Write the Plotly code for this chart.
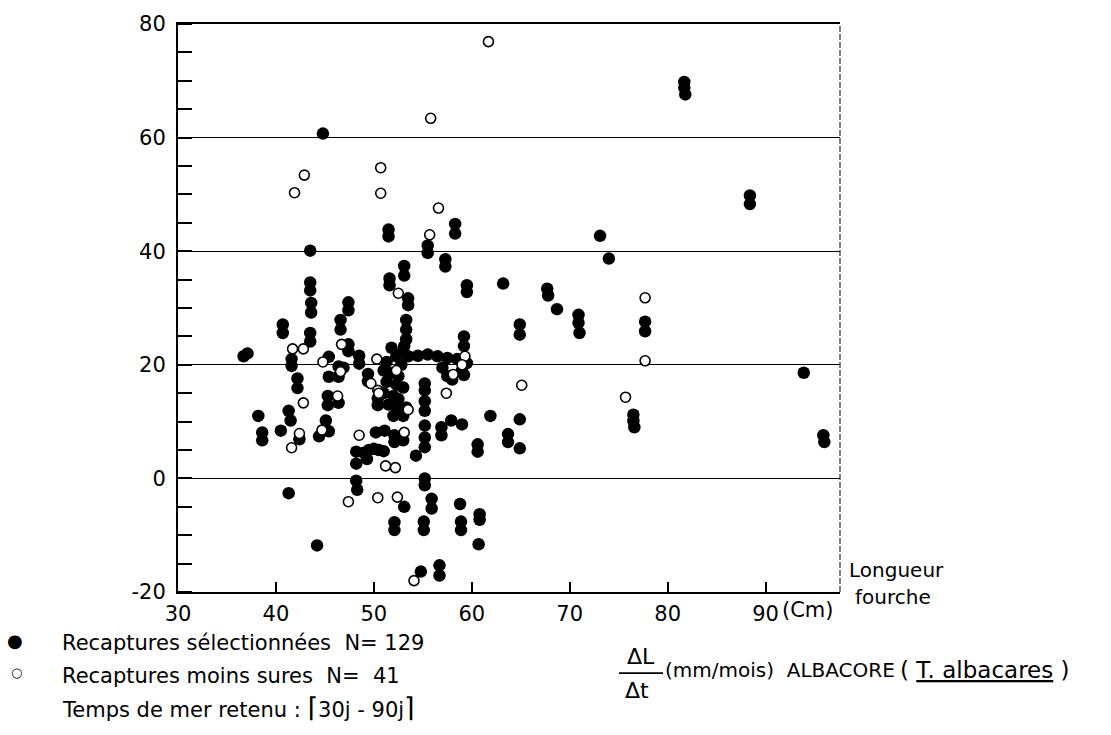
import plotly.graph_objects as go

# ---- data ----
# Recaptures sélectionnées (filled)
sel_x = [44.8, 51.5, 51.5, 55.5, 55.5, 43.5, 58.3, 58.3, 57.3, 57.3,
         81.7, 81.7, 81.8, 88.4, 88.4, 73.1, 74.0, 63.2, 67.7, 67.8,
         68.7, 70.9, 70.9, 71.0, 77.7, 77.7, 64.9, 64.9, 93.9, 76.5,
         76.5, 76.6, 64.9, 95.9, 96.0, 63.7, 63.7, 64.9, 61.9, 60.6,
         60.6, 44.2, 41.3, 48.2, 48.3, 53.1, 55.2, 55.2, 55.9, 55.9,
         52.1, 52.1, 55.1, 55.1, 58.8, 58.9, 58.9, 60.8, 60.8, 60.7,
         54.8, 56.7, 56.7, 48.2, 48.2, 49.0, 49.5, 50.0, 50.5, 51.0,
         49.3, 54.3, 55.2, 55.2, 55.2, 56.9, 56.9, 57.9, 38.6, 38.6,
         40.5, 42.4, 44.4, 44.8, 45.4, 45.1, 50.2, 51.1, 52.1, 52.1,
         53.0, 38.2, 41.5, 41.3, 43.5, 43.5, 43.6, 43.6, 47.4, 47.4,
         46.6, 46.6, 40.7, 40.7, 43.5, 43.5, 36.7, 37.1, 41.6, 41.6,
         47.4, 47.4, 45.4, 48.5, 48.5, 46.4, 46.4, 45.4, 42.2, 42.2,
         49.4, 49.4, 45.3, 45.3, 46.4, 50.4, 50.4, 53.1, 53.1, 51.6,
         51.6, 53.5, 53.5, 59.5, 59.5, 53.3, 53.3, 53.3, 53.1, 59.2,
         59.2, 53.0, 53.5, 54.5, 55.5, 56.5, 57.5, 58.5, 59.0, 59.5,
         57.0, 57.5, 58.0, 59.0, 59.2, 55.2, 55.2, 55.2, 55.2, 51.8,
         52.3, 51.3, 52.8, 51.0, 51.7, 52.5, 51.3, 52.3, 53.0, 51.0,
         52.0, 52.5, 51.5, 52.3, 53.3, 52.0, 53.0, 59.0, 46.9]
sel_y = [60.7, 43.8, 42.6, 41.0, 39.7, 40.1, 44.8, 43.1, 38.6, 37.3,
         69.8, 68.8, 67.6, 49.8, 48.3, 42.7, 38.7, 34.3, 33.4, 32.2,
         29.8, 28.8, 27.4, 25.6, 27.6, 25.9, 27.1, 25.3, 18.6, 11.2,
         10.1, 9.0, 10.4, 7.6, 6.4, 7.8, 6.4, 5.3, 11.0, 6.0,
         4.7, -11.8, -2.6, -0.4, -2.0, -5.0, 0.0, -1.2, -3.6, -5.3,
         -7.7, -9.1, -7.6, -9.1, -4.5, -7.6, -9.1, -6.3, -7.3, -11.6,
         -16.4, -15.3, -17.1, 4.7, 2.6, 4.5, 5.0, 5.2, 5.0, 4.8,
         3.4, 4.0, 9.3, 7.2, 5.5, 9.0, 7.6, 10.2, 8.1, 6.7,
         8.4, 6.9, 7.4, 8.4, 8.3, 10.2, 8.1, 8.4, 7.6, 6.4,
         6.7, 11.0, 10.2, 11.9, 34.5, 33.1, 30.9, 29.2, 31.0, 29.6,
         27.9, 26.2, 27.1, 25.6, 25.6, 24.1, 21.5, 22.0, 21.0, 19.8,
         23.6, 22.4, 21.4, 21.6, 20.2, 19.7, 17.9, 17.9, 17.6, 15.9,
         18.4, 17.1, 14.5, 12.9, 13.3, 14.1, 12.9, 37.4, 35.7, 35.2,
         34.0, 31.7, 30.5, 34.0, 32.8, 27.9, 26.2, 24.5, 23.3, 25.0,
         23.3, 22.5, 21.5, 21.6, 21.8, 21.5, 21.2, 21.0, 20.6, 20.3,
         19.5, 18.0, 17.4, 19.0, 18.2, 16.7, 15.5, 13.6, 11.9, 23.0,
         21.5, 20.5, 20.0, 19.0, 18.5, 18.0, 17.0, 16.5, 16.0, 15.0,
         14.5, 14.0, 13.0, 12.5, 12.5, 11.0, 11.0, 9.5, 19.5]

# Recaptures moins sures (open)
uns_x = [61.7, 55.8, 42.9, 41.9, 50.7, 50.7, 56.6, 55.7, 77.7, 77.7,
         65.1, 75.7, 47.4, 50.4, 52.4, 54.1, 51.2, 52.2, 41.6, 42.4,
         44.7, 48.5, 53.1, 52.5, 41.7, 42.8, 46.7, 44.8, 50.3, 49.7,
         46.3, 42.8, 50.4, 58.1, 57.4, 50.5, 52.3, 53.5, 46.6, 59.3,
         59.0]
uns_y = [76.9, 63.4, 53.4, 50.3, 54.7, 50.2, 47.6, 42.9, 31.8, 20.7,
         16.4, 14.3, -4.1, -3.4, -3.3, -18.0, 2.2, 1.9, 5.4, 7.9,
         8.5, 7.6, 8.1, 32.6, 22.8, 22.8, 23.6, 20.5, 21.0, 16.7,
         14.5, 13.3, 15.5, 18.3, 15.0, 15.0, 19.0, 12.1, 18.8, 21.5,
         20.0]

x_range = [30, 97.6]
y_range = [-20, 80]
x_ticks = [30, 40, 50, 60, 70, 80, 90]
y_ticks = [-20, 0, 20, 40, 60, 80]

FONT = "DejaVu Sans"
W, H = 1111, 735
L, R, T, B = 178, 840, 18, 592


def px(xp):
    return (xp - L) / (R - L)


def py(yp):
    return (B - yp) / (B - T)


fig = go.Figure()
fig.add_trace(go.Scatter(
    x=sel_x, y=sel_y, mode="markers",
    marker=dict(symbol="circle", size=12.5, color="black", line=dict(width=0)),
    name="Recaptures sélectionnées", hoverinfo="x+y"))
fig.add_trace(go.Scatter(
    x=uns_x, y=uns_y, mode="markers",
    marker=dict(symbol="circle", size=10, color="white",
                line=dict(width=1.6, color="black")),
    name="Recaptures moins sures", hoverinfo="x+y"))

fig.update_layout(
    width=W, height=H,
    margin=dict(l=L, r=W - R, t=T, b=H - B, pad=0),
    paper_bgcolor="white", plot_bgcolor="white",
    showlegend=False,
    font=dict(family=FONT, color="black", size=18),
)

fig.update_xaxes(
    range=x_range, tickvals=x_ticks, ticktext=[str(v) for v in x_ticks],
    ticks="inside", ticklen=10, tickwidth=1.6, tickcolor="black",
    showline=True, linecolor="black", linewidth=2, mirror=True,
    showgrid=False, zeroline=False,
    tickfont=dict(family=FONT, size=21, color="black"),
    ticklabelstandoff=2,
)
fig.update_yaxes(
    range=y_range, tickvals=y_ticks, ticktext=[str(v) for v in y_ticks],
    ticks="", showline=True, linecolor="black", linewidth=2,
    showgrid=True, gridcolor="black", gridwidth=1.4, zeroline=False,
    minor=dict(dtick=5, tick0=0, ticks="inside", ticklen=14,
               tickwidth=1.6, tickcolor="black", showgrid=False),
    tickfont=dict(family=FONT, size=21, color="black"),
    ticklabelstandoff=6,
)

# thin right border of the frame
fig.add_shape(type="line", xref="x domain", yref="y domain",
              x0=1, x1=1, y0=0, y1=1,
              line=dict(color="black", width=1, dash="6px,2px"))

ann = []


def text(xp, yp, s, size=18, xanchor="left"):
    ann.append(dict(x=px(xp), y=py(yp), xref="paper", yref="paper",
                    text=s, showarrow=False, xanchor=xanchor,
                    yanchor="middle",
                    font=dict(family=FONT, size=size, color="black")))


text(847, 570, "Longueur", 20)
text(853, 597, "fourche", 20)
text(780, 610, "(Cm)", 21)

# legend block
text(15, 641, "●", 18, "center")
text(16, 673, "○", 13, "center")
text(60, 644, "Recaptures sélectionnées  N= 129", 21)
text(60, 677, "Recaptures moins sures  N=  41", 21)
text(60, 709, "Temps de mer retenu : "
     "<span style='font-size:27px'>⌈</span>30j - 90j"
     "<span style='font-size:27px'>⌉</span>", 21)

# growth-rate label
text(641, 657, "ΔL", 22, "center")
text(637, 692, "Δt", 22, "center")
fig.add_shape(type="line", xref="paper", yref="paper",
              x0=px(619), x1=px(663), y0=py(674), y1=py(674),
              line=dict(color="black", width=1.6))
text(663, 671, "(mm/mois)  ALBACORE", 20)
text(898, 671, "( <u>T. albacares</u> )", 23)

fig.update_layout(annotations=ann)

fig.write_html("out.html",
               config={"displayModeBar": False},
               post_script="document.body.style.margin='0';"
                           "document.body.style.overflow='hidden';")
